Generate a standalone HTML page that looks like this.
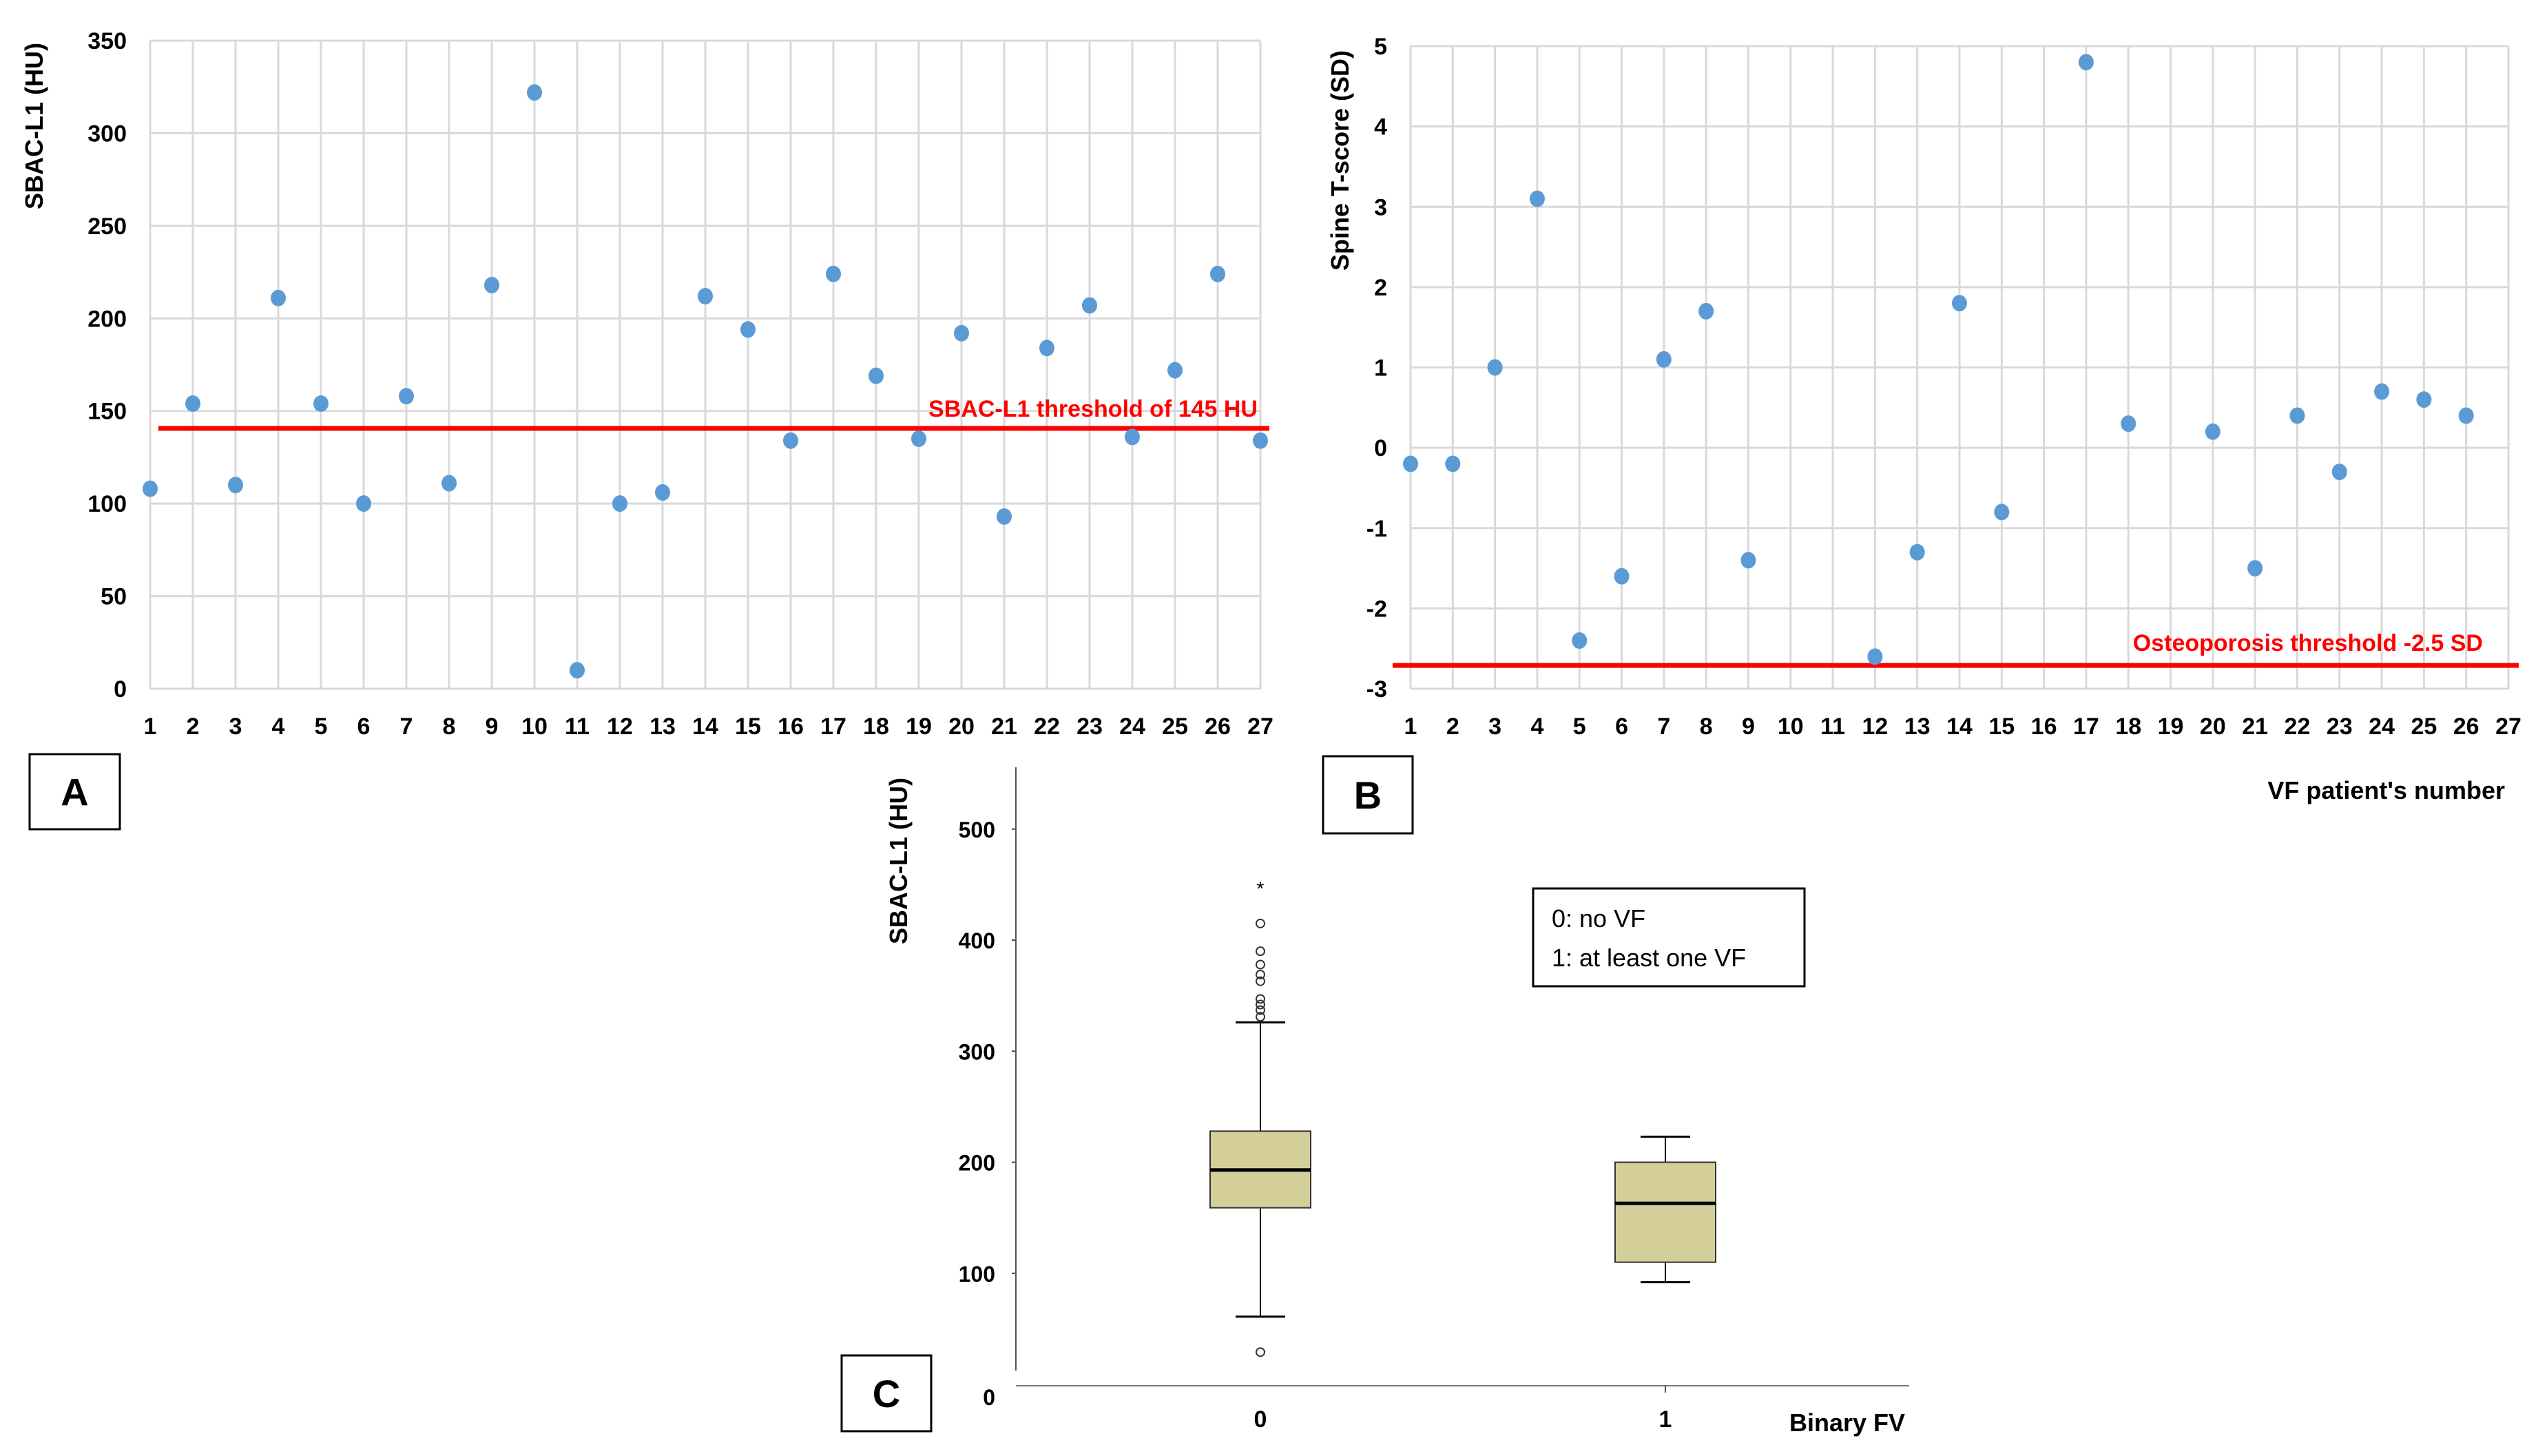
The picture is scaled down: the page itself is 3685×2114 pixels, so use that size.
<!DOCTYPE html>
<html><head><meta charset="utf-8"><style>
html,body{margin:0;padding:0;background:#fff;}
svg{display:block;}
text{font-family:"Liberation Sans",sans-serif;}
</style></head><body>
<svg id="s" width="3685" height="2114" viewBox="0 0 3685 2114" xmlns="http://www.w3.org/2000/svg">
<g id="gA"></g>
<g id="gB"></g>
<g id="gC"></g>
</svg>
<script>
var patients = [1,2,3,4,5,6,7,8,9,10,11,12,13,14,15,16,17,18,19,20,21,22,23,24,25,26,27];
var sbacValues = [108,154,110,211,154,100,158,111,218,322,10,100,106,212,194,134,224,169,135,192,93,184,207,136,172,224,134];
var sbacTicks = [0,50,100,150,200,250,300,350];
var sbacThreshold = 140.6;
var tscoreValues = [-0.2,-0.2,1,3.1,-2.4,-1.6,1.1,1.7,-1.4,null,null,-2.6,-1.3,1.8,-0.8,null,4.8,0.3,null,0.2,-1.5,0.4,-0.3,0.7,0.6,0.4,null];
var tscoreTicks = [-3,-2,-1,0,1,2,3,4,5];
var tscoreThreshold = -2.71;
var boxGroups = ["0","1"];
var boxQ1 = [159,110];
var boxMedian = [193,163];
var boxQ3 = [228,200];
var boxWhiskerLow = [61,92];
var boxWhiskerHigh = [326,223];
var outliersGroup0 = [415,390,378,369,363,347,342,337,331,29];
var extremeGroup0 = [448];
var boxTicks = [0,100,200,300,400,500];

var NS="http://www.w3.org/2000/svg";
function mk(parent,tag,attrs,txt){var e=document.createElementNS(NS,tag);for(var k in attrs)e.setAttribute(k,attrs[k]);if(txt!==undefined)e.textContent=txt;parent.appendChild(e);return e;}

function scatter(g, vals, ticks, x0, x1, yTop, yBot, vmin, vmax, thr, thrX0, thrX1, thrLabel, thrLabelX, thrLabelY, prefix){
  var n=patients.length;
  function X(i){return x0+(x1-x0)*(i-1)/(n-1);}
  function Y(v){return yBot-(v-vmin)/(vmax-vmin)*(yBot-yTop);}
  ticks.forEach(function(t){
    var l=mk(g,'line',{x1:x0,x2:x1,y1:Y(t),y2:Y(t),stroke:'#d9d9d9','stroke-width':3});
    
    
    var tx=mk(g,'text',{x:x0-34,y:Y(t)+12,'text-anchor':'end','font-size':34,'font-weight':'bold'},String(t));
    
    
  });
  patients.forEach(function(p){
    var l=mk(g,'line',{x1:X(p),x2:X(p),y1:yTop,y2:yBot,stroke:'#d9d9d9','stroke-width':3});
    
    
    var tx=mk(g,'text',{x:X(p),y:1066,'text-anchor':'middle','font-size':34,'font-weight':'bold'},String(p));
    
    
  });
  var tl=mk(g,'line',{x1:thrX0,x2:thrX1,y1:Y(thr),y2:Y(thr),stroke:'#ff0000','stroke-width':7});
  
  
  var tt=mk(g,'text',{x:thrLabelX,y:thrLabelY,'text-anchor':'end','font-size':34,'font-weight':'bold',fill:'#ff0000'},thrLabel);
  
  
  vals.forEach(function(v,i){
    if(v===null)return;
    var c=mk(g,'ellipse',{cx:X(patients[i]),cy:Y(v),rx:11,ry:12,fill:'#5b9bd5'});
    
    
  });
}
var gA=document.getElementById('gA');
scatter(gA,sbacValues,sbacTicks,218,1830,59,1000,0,350,sbacThreshold,230,1843,'SBAC-L1 threshold of 145 HU',1826,605,'a');
var ta=mk(gA,'text',{x:0,y:0,'font-size':36,'font-weight':'bold',transform:'translate(62,183) rotate(-90)','text-anchor':'middle','font-family':'DejaVu Sans'},'SBAC-L1 (HU)');


var gB=document.getElementById('gB');
scatter(gB,tscoreValues,tscoreTicks,2048,3642,67,1000,-3,5,tscoreThreshold,2022,3657,'Osteoporosis threshold -2.5 SD',3605,945,'b');
var tb=mk(gB,'text',{x:0,y:0,'font-size':36,'font-weight':'bold',transform:'translate(1958,233) rotate(-90)','text-anchor':'middle','font-family':'DejaVu Sans'},'Spine T-score (SD)');


var tbx=mk(gB,'text',{x:3637,y:1160,'text-anchor':'end','font-size':36,'font-weight':'bold'},"VF patient's number");



function panelBox(g,x,y,w,h,letter){
  var r=mk(g,'rect',{x:x,y:y,width:w,height:h,fill:'#fff',stroke:'#000','stroke-width':3});
  
  
  var t=mk(g,'text',{x:x+w/2,y:y+h/2+20,'text-anchor':'middle','font-size':56,'font-weight':'bold'},letter);
  
  
}
panelBox(gA,43,1095,131,109,'A');
panelBox(gB,1921,1098,130,112,'B');

var gC=document.getElementById('gC');
function YC(v){return 2010-v*1.6125;}
var xC=[1830,2418];
boxTicks.forEach(function(t){
  var tx=mk(gC,'text',{x:1445,y:(t===0?YC(t)+30:YC(t)+12),'text-anchor':'end','font-size':32,'font-weight':'bold'},String(t));
  
  
  if(t>0){var tk=mk(gC,'line',{x1:1469,x2:1475,y1:YC(t),y2:YC(t),stroke:'#444','stroke-width':2});
  
  }
});
var ay=mk(gC,'line',{x1:1475,x2:1475,y1:1114,y2:1990,stroke:'#555','stroke-width':2});


var ax=mk(gC,'line',{x1:1475,x2:2772,y1:2012,y2:2012,stroke:'#777','stroke-width':2});


boxGroups.forEach(function(gname,i){
  var cx=xC[i], hw=73, cw=36;
  var w1=mk(gC,'line',{x1:cx,x2:cx,y1:YC(boxWhiskerHigh[i]),y2:YC(boxQ3[i]),stroke:'#000','stroke-width':2});
  
  
  var w2=mk(gC,'line',{x1:cx,x2:cx,y1:YC(boxQ1[i]),y2:YC(boxWhiskerLow[i]),stroke:'#000','stroke-width':2});
  
  
  var c1=mk(gC,'line',{x1:cx-cw,x2:cx+cw,y1:YC(boxWhiskerHigh[i]),y2:YC(boxWhiskerHigh[i]),stroke:'#000','stroke-width':3});
  
  
  var c2=mk(gC,'line',{x1:cx-cw,x2:cx+cw,y1:YC(boxWhiskerLow[i]),y2:YC(boxWhiskerLow[i]),stroke:'#000','stroke-width':3});
  
  
  var b=mk(gC,'rect',{x:cx-hw,y:YC(boxQ3[i]),width:hw*2,height:YC(boxQ1[i])-YC(boxQ3[i]),fill:'#d4cf99',stroke:'#333','stroke-width':2});
  
  
  var m=mk(gC,'line',{x1:cx-hw,x2:cx+hw,y1:YC(boxMedian[i]),y2:YC(boxMedian[i]),stroke:'#000','stroke-width':5});
  
  
  var xl=mk(gC,'text',{x:cx,y:2072,'text-anchor':'middle','font-size':34,'font-weight':'bold'},gname);
  
  
});
var xt=mk(gC,'line',{x1:xC[1],x2:xC[1],y1:2012,y2:2022,stroke:'#555','stroke-width':2});


outliersGroup0.forEach(function(v){
  var o=mk(gC,'circle',{cx:xC[0],cy:YC(v),r:6,fill:'none',stroke:'#333','stroke-width':2});
  
  
});
extremeGroup0.forEach(function(v){
  var o=mk(gC,'text',{x:xC[0],y:YC(v)+12,'text-anchor':'middle','font-size':28},'*');
  
  
});
var tc=mk(gC,'text',{x:0,y:0,'font-size':36,'font-weight':'bold',transform:'translate(1317,1250) rotate(-90)','text-anchor':'middle','font-family':'DejaVu Sans'},'SBAC-L1 (HU)');


var tcx=mk(gC,'text',{x:2766,y:2078,'text-anchor':'end','font-size':36,'font-weight':'bold'},'Binary FV');


var lg=mk(gC,'rect',{x:2226,y:1290,width:394,height:142,fill:'#fff',stroke:'#000','stroke-width':3});


var l1=mk(gC,'text',{x:2253,y:1346,'font-size':36},'0: no VF');


var l2=mk(gC,'text',{x:2253,y:1403,'font-size':36},'1: at least one VF');


panelBox(gC,1222,1968,130,110,'C');
</script>
</body></html>
